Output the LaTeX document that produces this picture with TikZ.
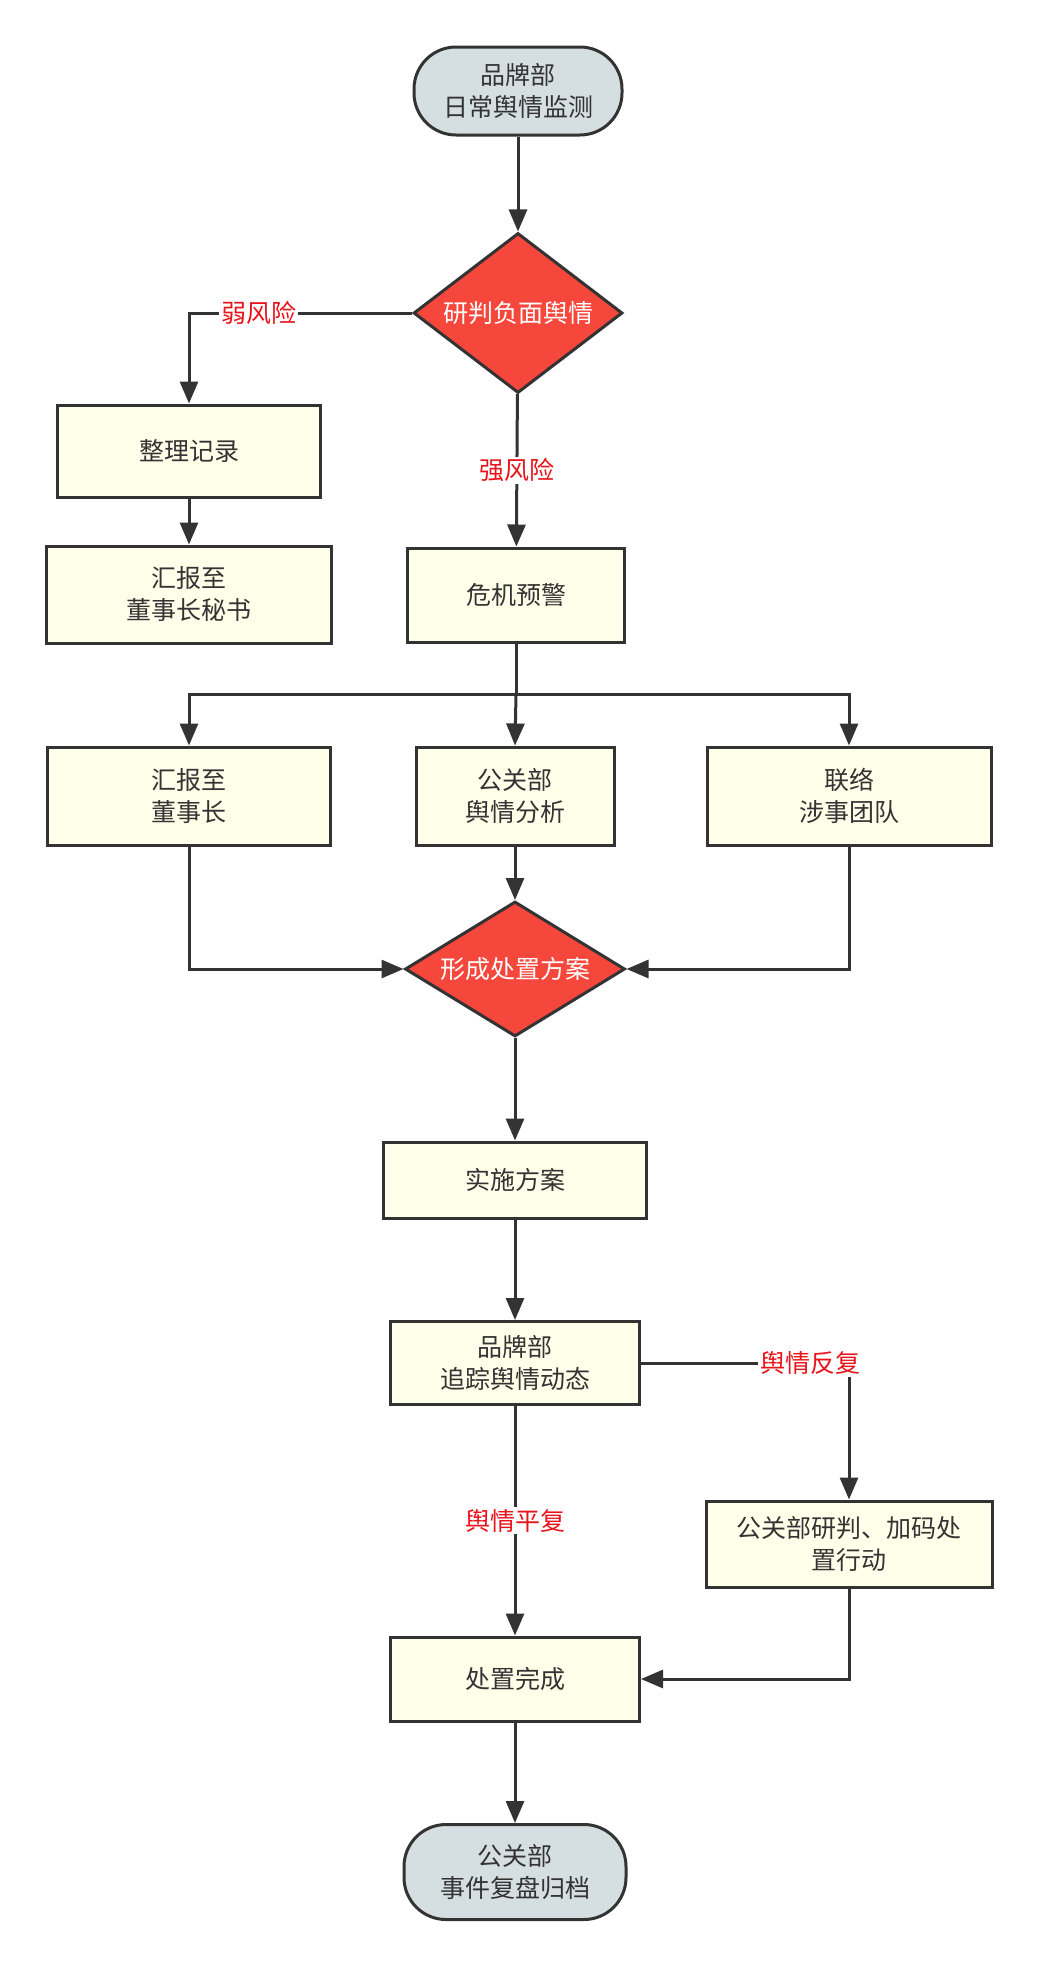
\documentclass[tikz,border=0pt]{standalone}
\usepackage{fontspec}
\setmainfont{Noto Sans CJK SC}
\usetikzlibrary{shapes.geometric,arrows.meta}
\definecolor{boxfill}{HTML}{FFFFEA}
\definecolor{termfill}{HTML}{D5DEE1}
\definecolor{decfill}{HTML}{F5473B}
\definecolor{ink}{HTML}{333333}
\definecolor{lblred}{HTML}{E8141C}

\begin{document}
\begin{tikzpicture}[x=1pt, y=-1pt,
                    every node/.style={font=\fontsize{25}{32}\selectfont, text=ink, align=center},
                    box/.style={draw=ink, line width=3pt, fill=boxfill, rectangle, minimum height=92pt, inner sep=0pt},
                    term/.style={draw=ink, line width=3pt, fill=termfill, rectangle, rounded corners=42pt, inner sep=0pt},
                    decide/.style={draw=ink, line width=3pt, fill=decfill, diamond, text=white, inner sep=0pt},
                    lbl/.style={fill=white, text=lblred, inner sep=2pt},
                    flow/.style={draw=ink, line width=3pt, -{Triangle[length=22pt,width=18pt]}},
                    plain/.style={draw=ink, line width=3pt}
                    ]

                    \useasboundingbox (0,0) rectangle (1038,1970);

                    \node[term, minimum width=208pt, minimum height=88pt] (start) at (518,91) {品牌部\\日常舆情监测};
                    \node[decide, aspect=1.2, minimum width=209pt, minimum height=160pt] (judge) at (518,313) {研判负面舆情};
                    \node[box, minimum width=263pt] (record) at (189,451) {整理记录};
                    \node[box, minimum width=285pt, minimum height=97pt] (secretary) at (189,594.5) {汇报至\\董事长秘书};
                    \node[box, minimum width=217pt, minimum height=94pt] (alert) at (516,595) {危机预警};
                    \node[box, minimum width=283pt, minimum height=98pt] (chairman) at (189,796) {汇报至\\董事长};
                    \node[box, minimum width=198pt, minimum height=98pt] (analysis) at (515,796) {公关部\\舆情分析};
                    \node[box, minimum width=284pt, minimum height=98pt] (team) at (849,796) {联络\\涉事团队};
                    \node[decide, aspect=1.5, minimum width=220pt, minimum height=135pt] (scheme) at (515,969) {形成处置方案};
                    \node[box, minimum width=263pt, minimum height=76pt] (implement) at (515,1180) {实施方案};
                    \node[box, minimum width=249pt, minimum height=83pt] (track) at (515,1363) {品牌部\\追踪舆情动态};
                    \node[box, minimum width=286pt, minimum height=86pt] (escalate) at (849,1544) {公关部研判、加码处\\置行动};
                    \node[box, minimum width=249pt, minimum height=84pt] (done) at (515,1679) {处置完成};
                    \node[term, minimum width=222pt, minimum height=95pt] (review) at (515,1872) {公关部\\事件复盘归档};

                    \path (alert.south) ++(0,51) coordinate (fork);

                    \foreach \i/\j in {start/judge,record/secretary,analysis/scheme,scheme/implement,implement/track,done/review}{
                        \draw[flow] (\i) -- (\j);
                    }

                    \draw[flow] (judge.west) -| node[lbl, pos=0.344] {弱风险} (record.north);
                    \draw[flow] (judge) -- node[lbl] {强风险} (alert);
                    \draw[plain] (alert.south) -- (fork);
                    \draw[flow] (fork) -| (chairman.north);
                    \draw[flow] (fork) -- (analysis.north);
                    \draw[flow] (fork) -| (team.north);
                    \draw[flow] (chairman.south) |- (scheme.west);
                    \draw[flow] (team.south) |- (scheme.east);
                    \draw[flow] (track.east) -| node[lbl, pos=0.407] {舆情反复} (escalate.north);
                    \draw[flow] (track) -- node[lbl] {舆情平复} (done);
                    \draw[flow] (escalate.south) |- (done.east);

                \end{tikzpicture}
\end{document}
